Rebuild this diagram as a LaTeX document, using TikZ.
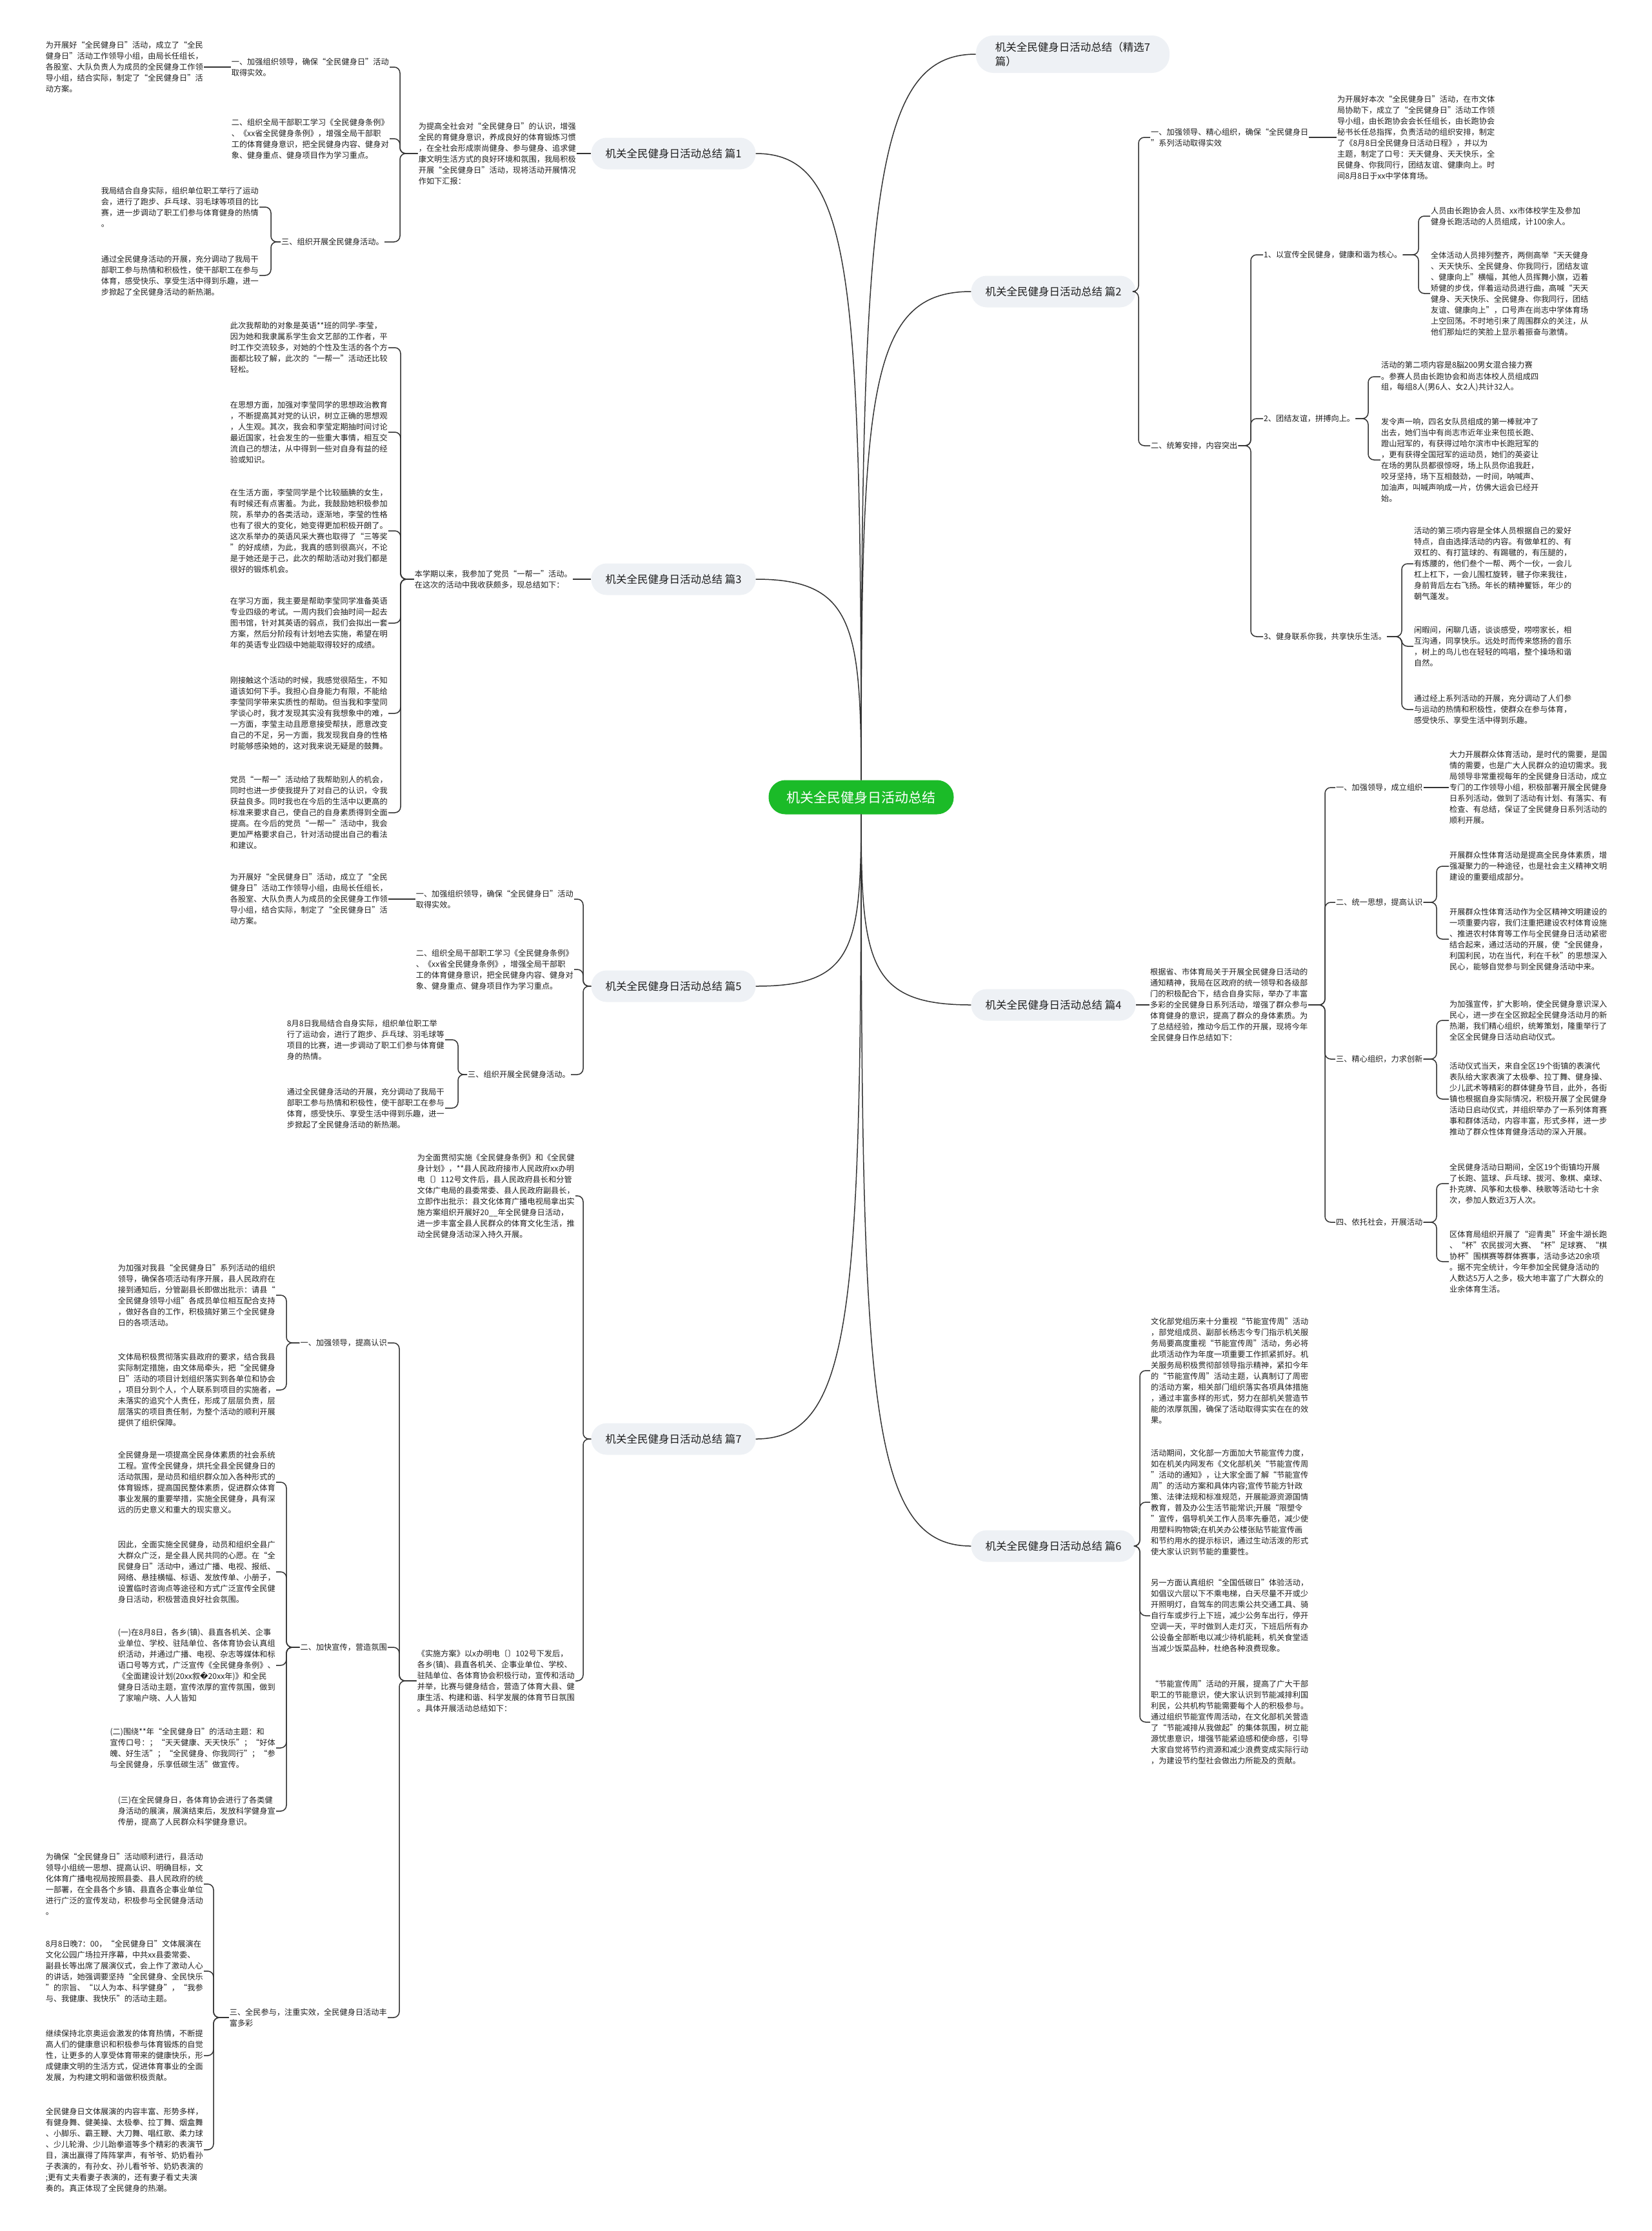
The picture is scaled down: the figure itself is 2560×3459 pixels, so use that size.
\documentclass[tikz,border=0pt]{standalone}
\usepackage{fontspec}
\setmainfont{Noto Sans CJK SC}
\newfontfamily\fffdfont{DejaVu Sans}
\usetikzlibrary{positioning}

\definecolor{rootgreen}{RGB}{27,187,40}
\definecolor{pillgray}{RGB}{238,241,245}
\definecolor{linec}{RGB}{51,51,51}
\definecolor{textc}{RGB}{30,30,30}
\newcommand\rootfont{\fontsize{21}{26}\selectfont}
\newcommand\branchfont{\fontsize{16.5}{22}\selectfont}
\newcommand\notefont{\fontsize{12.2}{17}\selectfont}

\begin{document}
\begin{tikzpicture}[
  x=1pt,y=1pt,
  root/.style={rounded corners=26pt,fill=rootgreen,text=white,font=\rootfont,minimum height=53pt,inner xsep=28pt},
  branch/.style={rounded corners=24pt,fill=pillgray,text=textc,font=\branchfont,minimum height=49pt,inner xsep=22pt},
  note/.style={font=\notefont,text=textc,align=left,inner sep=1pt},
  link/.style={draw=linec,line width=1.5pt,rounded corners=9pt},
  curve/.style={draw=linec,line width=1.5pt},
]
\useasboundingbox (0,0) rectangle (2560,-3459);

\node[root] (root) at (1335,-1236) {机关全民健身日活动总结};

\node[branch,align=left,rounded corners=27pt,minimum height=58pt,inner xsep=30pt] (b0) at (1663,-84) {机关全民健身日活动总结（精选7\\篇）};
\node[branch] (b1) at (1044,-238) {机关全民健身日活动总结 篇1};
\node[branch] (b2) at (1633,-452) {机关全民健身日活动总结 篇2};
\node[branch] (b3) at (1044,-898) {机关全民健身日活动总结 篇3};
\node[branch] (b4) at (1633,-1558) {机关全民健身日活动总结 篇4};
\node[branch] (b5) at (1044,-1529) {机关全民健身日活动总结 篇5};
\node[branch] (b6) at (1633,-2397) {机关全民健身日活动总结 篇6};
\node[branch] (b7) at (1044,-2231) {机关全民健身日活动总结 篇7};

\draw[curve] (root.north) .. controls +(0,900) and +(-160,0) .. (b0.west);
\draw[curve] (root.north) .. controls +(0,780) and +(150,0) .. (b1.east);
\draw[curve] (root.north) .. controls +(0,600) and +(-160,0) .. (b2.west);
\draw[curve] (root.north) .. controls +(0,240) and +(150,0) .. (b3.east);
\draw[curve] (root.south) .. controls +(0,-230) and +(-160,0) .. (b4.west);
\draw[curve] (root.south) .. controls +(0,-210) and +(150,0) .. (b5.east);
\draw[curve] (root.south) .. controls +(0,-900) and +(-160,0) .. (b6.west);
\draw[curve] (root.south) .. controls +(0,-770) and +(150,0) .. (b7.east);

% 篇1
\node[note,anchor=east] (t1) at (894,-238) {为提高全社会对“全民健身日”的认识，增强\\全民的育健身意识，养成良好的体育锻炼习惯\\，在全社会形成崇尚健身、参与健身、追求健\\康文明生活方式的良好环境和氛围，我局积极\\开展“全民健身日”活动，现将活动开展情况\\作如下汇报：};
\node[note,anchor=east] (c11) at (604,-104) {一、加强组织领导，确保“全民健身日”活动\\取得实效。};
\node[note,anchor=east] (l111) at (316,-104) {为开展好“全民健身日”活动，成立了“全民\\健身日”活动工作领导小组，由局长任组长，\\各股室、大队负责人为成员的全民健身工作领\\导小组，结合实际，制定了“全民健身日”活\\动方案。};
\node[note,anchor=east] (c12) at (604,-215) {二、组织全局干部职工学习《全民健身条例》\\、《xx省全民健身条例》，增强全局干部职\\工的体育健身意识，把全民健身内容、健身对\\象、健身重点、健身项目作为学习重点。};
\node[note,anchor=east] (c13) at (596,-375) {三、组织开展全民健身活动。};
\node[note,anchor=east] (l131) at (402,-321) {我局结合自身实际，组织单位职工举行了运动\\会，进行了跑步、乒乓球、羽毛球等项目的比\\赛，进一步调动了职工们参与体育健身的热情\\。};
\node[note,anchor=east] (l132) at (402,-427) {通过全民健身活动的开展，充分调动了我局干\\部职工参与热情和积极性，使干部职工在参与\\体育，感受快乐、享受生活中得到乐趣，进一\\步掀起了全民健身活动的新热潮。};
\coordinate (k1) at (620,-238);
\coordinate (k13) at (420,-375);

\draw[link] (b1.west) -- (t1.east);
\foreach \c in {c11,c12,c13} \draw[link] (t1.west) -- (k1) |- (\c.east);
\draw[link] (c11.west) -- (l111.east);
\foreach \c in {l131,l132} \draw[link] (c13.west) -- (k13) |- (\c.east);

% 篇3
\node[note,anchor=east] (t3) at (888,-898) {本学期以来，我参加了党员“一帮一”活动。\\在这次的活动中我收获颇多，现总结如下：};
\node[note,anchor=east] (p31) at (602,-539) {此次我帮助的对象是英语**班的同学-李莹，\\因为她和我隶属系学生会文艺部的工作者，平\\时工作交流较多，对她的个性及生活的各个方\\面都比较了解，此次的“一帮一”活动还比较\\轻松。};
\node[note,anchor=east] (p32) at (602,-670) {在思想方面，加强对李莹同学的思想政治教育\\，不断提高其对党的认识，树立正确的思想观\\，人生观。其次，我会和李莹定期抽时间讨论\\最近国家，社会发生的一些重大事情，相互交\\流自己的想法，从中得到一些对自身有益的经\\验或知识。};
\node[note,anchor=east] (p33) at (602,-823) {在生活方面，李莹同学是个比较腼腆的女生，\\有时候还有点害羞。为此，我鼓励她积极参加\\院，系举办的各类活动，逐渐地，李莹的性格\\也有了很大的变化，她变得更加积极开朗了。\\这次系举办的英语风采大赛也取得了“三等奖\\”的好成绩，为此，我真的感到很高兴，不论\\是于她还是于己，此次的帮助活动对我们都是\\很好的锻炼机会。};
\node[note,anchor=east] (p34) at (602,-966) {在学习方面，我主要是帮助李莹同学准备英语\\专业四级的考试。一周内我们会抽时间一起去\\图书馆，针对其英语的弱点，我们会拟出一套\\方案，然后分阶段有计划地去实施，希望在明\\年的英语专业四级中她能取得较好的成绩。};
\node[note,anchor=east] (p35) at (602,-1106) {刚接触这个活动的时候，我感觉很陌生，不知\\道该如何下手。我担心自身能力有限，不能给\\李莹同学带来实质性的帮助。但当我和李莹同\\学谈心时，我才发现其实没有我想象中的难，\\一方面，李莹主动且愿意接受帮扶，愿意改变\\自己的不足，另一方面，我发现我自身的性格\\时能够感染她的，这对我来说无疑是的鼓舞。};
\node[note,anchor=east] (p36) at (602,-1260) {党员“一帮一”活动给了我帮助别人的机会，\\同时也进一步使我提升了对自己的认识，令我\\获益良多。同时我也在今后的生活中以更高的\\标准来要求自己，使自己的自身素质得到全面\\提高。在今后的党员“一帮一”活动中，我会\\更加严格要求自己，针对活动提出自己的看法\\和建议。};
\coordinate (k3) at (621,-898);

\draw[link] (b3.west) -- (t3.east);
\foreach \c in {p31,p32,p33,p34,p35,p36} \draw[link] (t3.west) -- (k3) |- (\c.east);

% 篇5
\node[note,anchor=east] (c51) at (890,-1394) {一、加强组织领导，确保“全民健身日”活动\\取得实效。};
\node[note,anchor=east] (l511) at (602,-1394) {为开展好“全民健身日”活动，成立了“全民\\健身日”活动工作领导小组，由局长任组长，\\各股室、大队负责人为成员的全民健身工作领\\导小组，结合实际，制定了“全民健身日”活\\动方案。};
\node[note,anchor=east] (c52) at (890,-1503) {二、组织全局干部职工学习《全民健身条例》\\、《xx省全民健身条例》，增强全局干部职\\工的体育健身意识，把全民健身内容、健身对\\象、健身重点、健身项目作为学习重点。};
\node[note,anchor=east] (c53) at (885,-1666) {三、组织开展全民健身活动。};
\node[note,anchor=east] (l531) at (690,-1612) {8月8日我局结合自身实际，组织单位职工举\\行了运动会，进行了跑步、乒乓球、羽毛球等\\项目的比赛，进一步调动了职工们参与体育健\\身的热情。};
\node[note,anchor=east] (l532) at (690,-1718) {通过全民健身活动的开展，充分调动了我局干\\部职工参与热情和积极性，使干部职工在参与\\体育，感受快乐、享受生活中得到乐趣，进一\\步掀起了全民健身活动的新热潮。};
\coordinate (k5) at (904,-1529);
\coordinate (k53) at (710,-1666);

\foreach \c in {c51,c52,c53} \draw[link] (b5.west) -- (k5) |- (\c.east);
\draw[link] (c51.west) -- (l511.east);
\foreach \c in {l531,l532} \draw[link] (c53.west) -- (k53) |- (\c.east);

% 篇7
\node[note,anchor=east] (t7a) at (892,-1854) {为全面贯彻实施《全民健身条例》和《全民健\\身计划》，**县人民政府接市人民政府xx办明\\电〔〕112号文件后，县人民政府县长和分管\\文体广电局的县委常委、县人民政府副县长，\\立即作出批示：县文化体育广播电视局拿出实\\施方案组织开展好20\_\_年全民健身日活动，\\进一步丰富全县人民群众的体育文化生活，推\\动全民健身活动深入持久开展。};
\node[note,anchor=east] (t7b) at (892,-2606) {《实施方案》以x办明电〔〕102号下发后，\\各乡(镇)、县直各机关、企事业单位、学校、\\驻陆单位、各体育协会积极行动，宣传和活动\\并举，比赛与健身结合，营造了体育大县、健\\康生活、构建和谐、科学发展的体育节日氛围\\。具体开展活动总结如下：};
\node[note,anchor=east] (c71) at (601,-2082) {一、加强领导，提高认识};
\node[note,anchor=east] (c72) at (601,-2554) {二、加快宣传，营造氛围};
\node[note,anchor=east] (c73) at (601,-3128) {三、全民参与，注重实效，全民健身日活动丰\\富多彩};
\node[note,anchor=east] (l711) at (428,-2008) {为加强对我县“全民健身日”系列活动的组织\\领导，确保各项活动有序开展，县人民政府在\\接到通知后，分管副县长即做出批示：请县“\\全民健身领导小组”各成员单位相互配合支持\\，做好各自的工作，积极搞好第三个全民健身\\日的各项活动。};
\node[note,anchor=east] (l712) at (428,-2155) {文体局积极贯彻落实县政府的要求，结合我县\\实际制定措施，由文体局牵头，把“全民健身\\日”活动的项目计划组织落实到各单位和协会\\，项目分到个人，个人联系到项目的实施者，\\未落实的追究个人责任，形成了层层负责，层\\层落实的项目责任制，为整个活动的顺利开展\\提供了组织保障。};
\node[note,anchor=east] (l721) at (428,-2298) {全民健身是一项提高全民身体素质的社会系统\\工程。宣传全民健身，烘托全县全民健身日的\\活动氛围，是动员和组织群众加入各种形式的\\体育锻炼，提高国民整体素质，促进群众体育\\事业发展的重要举措，实施全民健身，具有深\\远的历史意义和重大的现实意义。};
\node[note,anchor=east] (l722) at (428,-2437) {因此，全面实施全民健身，动员和组织全县广\\大群众广泛，是全县人民共同的心愿。在“全\\民健身日”活动中，通过广播、电视、报纸、\\网络、悬挂横幅、标语、发放传单、小册子，\\设置临时咨询点等途径和方式广泛宣传全民健\\身日活动，积极营造良好社会氛围。};
\node[note,anchor=east] (l723) at (428,-2582) {(一)在8月8日，各乡(镇)、县直各机关、企事\\业单位、学校、驻陆单位、各体育协会认真组\\织活动，并通过广播、电视、杂志等媒体和标\\语口号等方式，广泛宣传《全民健身条例》、\\《全面建设计划(20xx叙{\fffdfont\char"FFFD}20xx年)》和全民\\健身日活动主题，宣传浓厚的宣传氛围，做到\\了家喻户晓、人人皆知};
\node[note,anchor=east] (l724) at (428,-2710) {(二)围绕**年“全民健身日”的活动主题：和\\宣传口号：；“天天健康、天天快乐”；“好体\\魄、好生活”；“全民健身、你我同行”；“参\\与全民健身，乐享低碳生活”做宣传。};
\node[note,anchor=east] (l725) at (428,-2808) {(三)在全民健身日，各体育协会进行了各类健\\身活动的展演，展演结束后，发放科学健身宣\\传册，提高了人民群众科学健身意识。};
\node[note,anchor=east] (l731) at (316,-2921) {为确保“全民健身日”活动顺利进行，县活动\\领导小组统一思想、提高认识、明确目标，文\\化体育广播电视局按照县委、县人民政府的统\\一部署，在全县各个乡镇、县直各企事业单位\\进行广泛的宣传发动，积极参与全民健身活动\\。};
\node[note,anchor=east] (l732) at (316,-3056) {8月8日晚7：00，“全民健身日”文体展演在\\文化公园广场拉开序幕，中共xx县委常委、\\副县长等出席了展演仪式，会上作了激动人心\\的讲话，她强调要坚持“全民健身、全民快乐\\”的宗旨、“以人为本、科学健身”，“我参\\与、我健康、我快乐”的活动主题。};
\node[note,anchor=east] (l733) at (316,-3187) {继续保持北京奥运会激发的体育热情，不断提\\高人们的健康意识和积极参与体育锻炼的自觉\\性，让更多的人享受体育带来的健康快乐，形\\成健康文明的生活方式，促进体育事业的全面\\发展，为构建文明和谐做积极贡献。};
\node[note,anchor=east] (l734) at (316,-3333) {全民健身日文体展演的内容丰富、形势多样，\\有健身舞、健美操、太极拳、拉丁舞、烟盒舞\\、小脚乐、霸王鞭、大刀舞、唱红歌、柔力球\\、少儿轮滑、少儿跆拳道等多个精彩的表演节\\目，演出赢得了阵阵掌声，有爷爷、奶奶看孙\\子表演的，有孙女、孙儿看爷爷、奶奶表演的\\;更有丈夫看妻子表演的，还有妻子看丈夫演\\奏的。真正体现了全民健身的热潮。};
\coordinate (k7) at (904,-2231);
\coordinate (k7b) at (619,-2606);
\coordinate (k71) at (444,-2082);
\coordinate (k72) at (444,-2554);
\coordinate (k73) at (331,-3128);

\foreach \c in {t7a,t7b} \draw[link] (b7.west) -- (k7) |- (\c.east);
\foreach \c in {c71,c72,c73} \draw[link] (t7b.west) -- (k7b) |- (\c.east);
\foreach \c in {l711,l712} \draw[link] (c71.west) -- (k71) |- (\c.east);
\foreach \c in {l721,l722,l723,l724,l725} \draw[link] (c72.west) -- (k72) |- (\c.east);
\foreach \c in {l731,l732,l733,l734} \draw[link] (c73.west) -- (k73) |- (\c.east);

% 篇2
\node[note,anchor=west] (c21) at (1783,-213) {一、加强领导、精心组织，确保“全民健身日\\”系列活动取得实效};
\node[note,anchor=west] (l211) at (2072,-213) {为开展好本次“全民健身日”活动，在市文体\\局协助下，成立了“全民健身日”活动工作领\\导小组，由长跑协会会长任组长，由长跑协会\\秘书长任总指挥，负责活动的组织安排，制定\\了《8月8日全民健身日活动日程》，并以为\\主题，制定了口号：天天健身、天天快乐，全\\民健身、你我同行，团结友谊、健康向上。时\\间8月8日于xx中学体育场。};
\node[note,anchor=west] (c22) at (1783,-691) {二、统筹安排，内容突出};
\node[note,anchor=west] (c221) at (1958,-395) {1、以宣传全民健身，健康和谐为核心。};
\node[note,anchor=west] (c222) at (1958,-649) {2、团结友谊，拼搏向上。};
\node[note,anchor=west] (c223) at (1958,-987) {3、健身联系你我，共享快乐生活。};
\node[note,anchor=west] (l2211) at (2217,-335) {人员由长跑协会人员、xx市体校学生及参加\\健身长跑活动的人员组成，计100余人。};
\node[note,anchor=west] (l2212) at (2217,-455) {全体活动人员排列整齐，两侧高举“天天健身\\、天天快乐、全民健身、你我同行，团结友谊\\、健康向上”横幅，其他人员挥舞小旗，迈着\\矫健的步伐，伴着运动员进行曲，高喊“天天\\健身、天天快乐、全民健身、你我同行，团结\\友谊、健康向上”，口号声在尚志中学体育场\\上空回荡。不时地引来了周围群众的关注，从\\他们那灿烂的笑脸上显示着振奋与激情。};
\node[note,anchor=west] (l2221) at (2140,-584) {活动的第二项内容是8脳200男女混合接力赛\\。参赛人员由长跑协会和尚志体校人员组成四\\组，每组8人(男6人、女2人)共计32人。};
\node[note,anchor=west] (l2222) at (2140,-713) {发令声一响，四名女队员组成的第一棒就冲了\\出去，她们当中有尚志市近年业来包揽长跑、\\蹬山冠军的，有获得过哈尔滨市中长跑冠军的\\，更有获得全国冠军的运动员，她们的英姿让\\在场的男队员都很惊呀，场上队员你追我赶，\\咬牙坚持，场下互相鼓劲，一时间，呐喊声、\\加油声，叫喊声响成一片，仿佛大运会已经开\\始。};
\node[note,anchor=west] (l2231) at (2191,-874) {活动的第三项内容是全体人员根据自己的爱好\\特点，自由选择活动的内容。有做单杠的、有\\双杠的、有打篮球的、有踢毽的，有压腿的，\\有炼腰的，他们叁个一帮、两个一伙，一会儿\\杠上杠下，一会儿围杠旋转，毽子你来我往，\\身前背后左右飞扬。年长的精神矍铄，年少的\\朝气蓬发。};
\node[note,anchor=west] (l2232) at (2191,-1002) {闲暇间，闲聊几语，谈谈感受，唠唠家长，相\\互沟通，同享快乐。远处时而传来悠扬的音乐\\，树上的鸟儿也在轻轻的鸣唱，整个操场和谐\\自然。};
\node[note,anchor=west] (l2233) at (2191,-1100) {通过经上系列活动的开展，充分调动了人们参\\与运动的热情和积极性，使群众在参与体育，\\感受快乐、享受生活中得到乐趣。};
\coordinate (k2) at (1765,-452);
\coordinate (k22) at (1939,-691);
\coordinate (k221) at (2199,-395);
\coordinate (k222) at (2121,-649);
\coordinate (k223) at (2173,-987);

\foreach \c in {c21,c22} \draw[link] (b2.east) -- (k2) |- (\c.west);
\draw[link] (c21.east) -- (l211.west);
\foreach \c in {c221,c222,c223} \draw[link] (c22.east) -- (k22) |- (\c.west);
\foreach \c in {l2211,l2212} \draw[link] (c221.east) -- (k221) |- (\c.west);
\foreach \c in {l2221,l2222} \draw[link] (c222.east) -- (k222) |- (\c.west);
\foreach \c in {l2231,l2232,l2233} \draw[link] (c223.east) -- (k223) |- (\c.west);

% 篇4
\node[note,anchor=west] (t4) at (1782,-1558) {根据省、市体育局关于开展全民健身日活动的\\通知精神，我局在区政府的统一领导和各级部\\门的积极配合下，结合自身实际，举办了丰富\\多彩的全民健身日系列活动，增强了群众参与\\体育健身的意识，提高了群众的身体素质。为\\了总结经验，推动今后工作的开展，现将今年\\全民健身日作总结如下：};
\node[note,anchor=west] (c41) at (2070,-1221) {一、加强领导，成立组织};
\node[note,anchor=west] (c42) at (2070,-1399) {二、统一思想，提高认识};
\node[note,anchor=west] (c43) at (2070,-1642) {三、精心组织，力求创新};
\node[note,anchor=west] (c44) at (2070,-1895) {四、依托社会，开展活动};
\node[note,anchor=west] (l411) at (2246,-1221) {大力开展群众体育活动，是时代的需要，是国\\情的需要，也是广大人民群众的迫切需求。我\\局领导非常重视每年的全民健身日活动，成立\\专门的工作领导小组，积极部署开展全民健身\\日系列活动，做到了活动有计划、有落实、有\\检查、有总结，保证了全民健身日系列活动的\\顺利开展。};
\node[note,anchor=west] (l421) at (2246,-1343) {开展群众性体育活动是提高全民身体素质，增\\强凝聚力的一种途径，也是社会主义精神文明\\建设的重要组成部分。};
\node[note,anchor=west] (l422) at (2246,-1456) {开展群众性体育活动作为全区精神文明建设的\\一项重要内容，我们注重把建设农村体育设施\\、推进农村体育等工作与全民健身日活动紧密\\结合起来，通过活动的开展，使“全民健身，\\利国利民，功在当代，利在千秋”的思想深入\\民心，能够自觉参与到全民健身活动中来。};
\node[note,anchor=west] (l431) at (2246,-1582) {为加强宣传，扩大影响，使全民健身意识深入\\民心，进一步在全区掀起全民健身活动月的新\\热潮，我们精心组织，统筹策划，隆重举行了\\全区全民健身日活动启动仪式。};
\node[note,anchor=west] (l432) at (2246,-1704) {活动仪式当天，来自全区19个街镇的表演代\\表队给大家表演了太极拳、拉丁舞、健身操、\\少儿武术等精彩的群体健身节目，此外，各街\\镇也根据自身实际情况，积极开展了全民健身\\活动日启动仪式，并组织举办了一系列体育赛\\事和群体活动，内容丰富，形式多样，进一步\\推动了群众性体育健身活动的深入开展。};
\node[note,anchor=west] (l441) at (2246,-1835) {全民健身活动日期间，全区19个街镇均开展\\了长跑、篮球、乒乓球、拔河、象棋、桌球、\\扑克牌、风筝和太极拳、秧歌等活动七十余\\次，参加人数近3万人次。};
\node[note,anchor=west] (l442) at (2246,-1956) {区体育局组织开展了“迎青奥”环金牛湖长跑\\、“杯”农民拔河大赛、“杯”足球赛、“棋\\协杯”围棋赛等群体赛事，活动多达20余项\\。据不完全统计，今年参加全民健身活动的\\人数达5万人之多，极大地丰富了广大群众的\\业余体育生活。};
\coordinate (k4) at (2054,-1558);
\coordinate (k42) at (2227,-1399);
\coordinate (k43) at (2227,-1642);
\coordinate (k44) at (2227,-1895);

\draw[link] (b4.east) -- (t4.west);
\foreach \c in {c41,c42,c43,c44} \draw[link] (t4.east) -- (k4) |- (\c.west);
\draw[link] (c41.east) -- (l411.west);
\foreach \c in {l421,l422} \draw[link] (c42.east) -- (k42) |- (\c.west);
\foreach \c in {l431,l432} \draw[link] (c43.east) -- (k43) |- (\c.west);
\foreach \c in {l441,l442} \draw[link] (c44.east) -- (k44) |- (\c.west);

% 篇6
\node[note,anchor=west] (l61) at (1783,-2125) {文化部党组历来十分重视“节能宣传周”活动\\，部党组成员、副部长杨志今专门指示机关服\\务局要高度重视“节能宣传周”活动，务必将\\此项活动作为年度一项重要工作抓紧抓好。机\\关服务局积极贯彻部领导指示精神，紧扣今年\\的“节能宣传周”活动主题，认真制订了周密\\的活动方案，相关部门组织落实各项具体措施\\，通过丰富多样的形式，努力在部机关营造节\\能的浓厚氛围，确保了活动取得实实在在的效\\果。};
\node[note,anchor=west] (l62) at (1783,-2329) {活动期间，文化部一方面加大节能宣传力度，\\如在机关内网发布《文化部机关“节能宣传周\\”活动的通知》，让大家全面了解“节能宣传\\周”的活动方案和具体内容;宣传节能方针政\\策、法律法规和标准规范，开展能源资源国情\\教育，普及办公生活节能常识;开展“限塑令\\”宣传，倡导机关工作人员率先垂范，减少使\\用塑料购物袋;在机关办公楼张贴节能宣传画\\和节约用水的提示标识，通过生动活泼的形式\\使大家认识到节能的重要性。};
\node[note,anchor=west] (l63) at (1783,-2505) {另一方面认真组织“全国低碳日”体验活动，\\如倡议六层以下不乘电梯，白天尽量不开或少\\开照明灯，自驾车的同志乘公共交通工具、骑\\自行车或步行上下班，减少公务车出行，停开\\空调一天，平时做到人走灯灭，下班后所有办\\公设备全部断电以减少待机能耗，机关食堂适\\当减少饭菜品种，杜绝各种浪费现象。};
\node[note,anchor=west] (l64) at (1783,-2670) {“节能宣传周”活动的开展，提高了广大干部\\职工的节能意识，使大家认识到节能减排利国\\利民，公共机构节能需要每个人的积极参与。\\通过组织节能宣传周活动，在文化部机关营造\\了“节能减排从我做起”的集体氛围，树立能\\源忧患意识，增强节能紧迫感和使命感，引导\\大家自觉将节约资源和减少浪费变成实际行动\\，为建设节约型社会做出力所能及的贡献。};
\coordinate (k6) at (1767,-2397);

\foreach \c in {l61,l62,l63,l64} \draw[link] (b6.east) -- (k6) |- (\c.west);
\end{tikzpicture}
\end{document}
